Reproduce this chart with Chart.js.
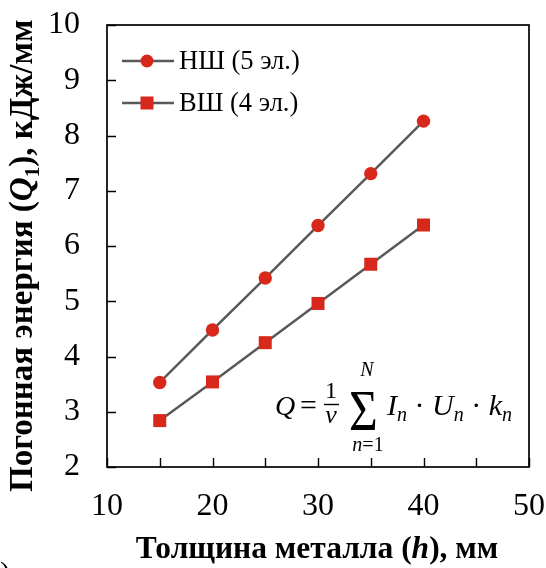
<!DOCTYPE html>
<html>
<head>
<meta charset="utf-8">
<script src="https://cdn.jsdelivr.net/npm/chart.js@4/dist/chart.umd.min.js"></script>
<style>
  html, body { margin: 0; padding: 0; background: #ffffff; }
  #wrap { width: 546px; height: 568px; }
</style>
</head>
<body>
<div id="wrap"><canvas id="c" width="546" height="568"></canvas></div>
<script>
// Metal thickness h, mm
const thickness = [15, 20, 25, 30, 35, 40];
// Heat input Q1, kJ/mm
const nshValues = [3.53, 4.48, 5.42, 6.37, 7.31, 8.26];
const vshValues = [2.84, 3.54, 4.25, 4.96, 5.67, 6.38];
const seriesNames = ['НШ (5 эл.)', 'ВШ (4 эл.)'];
const xRange = [10, 50];
const yRange = [2, 10];

const RED = '#D8281C';
const LINE = '#595959';
const SERIF = '"Liberation Serif", "Times New Roman", serif';

function pts(ys) { return thickness.map((x, i) => ({ x: x, y: ys[i] })); }

// keep the plot box fixed: no extra room reserved for edge labels
function noPad(s) { s.paddingTop = 0; s.paddingBottom = 0; s.paddingLeft = 0; s.paddingRight = 0; }

// Box frame, inward tick marks, legend, axis titles and the formula
const decor = {
  id: 'decor',
  afterDraw(chart) {
    const ctx = chart.ctx;
    const a = chart.chartArea;
    const xs = chart.scales.x, ys = chart.scales.y;
    ctx.save();

    // frame
    ctx.strokeStyle = '#000';
    ctx.lineWidth = 1.7;
    ctx.strokeRect(a.left, a.top, a.right - a.left, a.bottom - a.top);

    // inward ticks
    ctx.lineWidth = 1.4;
    ctx.beginPath();
    ys.ticks.forEach(t => {
      const y = Math.round(ys.getPixelForValue(t.value)) + 0.5;
      ctx.moveTo(a.left, y); ctx.lineTo(a.left + 9, y);
    });
    xs.ticks.forEach(t => {
      const x = Math.round(xs.getPixelForValue(t.value)) + 0.5;
      ctx.moveTo(x, a.bottom); ctx.lineTo(x, a.bottom - 9);
    });
    ctx.stroke();

    // legend
    chart.data.datasets.forEach((ds, i) => {
      const y = a.top + 36 + i * 42;
      const x0 = a.left + 15, x1 = a.left + 67, xm = a.left + 40;
      ctx.strokeStyle = LINE;
      ctx.lineWidth = 2.5;
      ctx.beginPath(); ctx.moveTo(x0, y); ctx.lineTo(x1, y); ctx.stroke();
      ctx.fillStyle = RED;
      if (ds.pointStyle === 'rect') {
        ctx.fillRect(xm - 6.5, y - 6.5, 13, 13);
      } else {
        ctx.beginPath(); ctx.arc(xm, y, 6.5, 0, Math.PI * 2); ctx.fill();
      }
      ctx.fillStyle = '#000';
      ctx.font = '26.5px ' + SERIF;
      ctx.textBaseline = 'middle';
      ctx.textAlign = 'left';
      ctx.fillText(ds.label, a.left + 72, y + 1);
    });

    ctx.textBaseline = 'alphabetic';
    ctx.fillStyle = '#000';

    // draws a run of [text, font, dy] pieces starting at x
    function run(parts, x, y) {
      parts.forEach(p => {
        ctx.font = p[1];
        ctx.fillText(p[0], x, y + (p[2] || 0));
        x += ctx.measureText(p[0]).width;
      });
      return x;
    }
    function runWidth(parts) {
      let w = 0;
      parts.forEach(p => { ctx.font = p[1]; w += ctx.measureText(p[0]).width; });
      return w;
    }

    // x-axis title
    const XB = 'bold 31.5px ' + SERIF, XBI = 'italic bold 31.5px ' + SERIF;
    const xt = [['Толщина металла (', XB], ['h', XBI], ['), мм', XB]];
    ctx.textAlign = 'left';
    run(xt, (a.left + a.right) / 2 - runWidth(xt) / 2 - 1, 558);

    // y-axis title
    const YB = 'bold 33px ' + SERIF, YBI = 'italic bold 33px ' + SERIF;
    const yt = [['Погонная энергия (', YB], ['Q', YBI], ['1', 'bold 21px ' + SERIF, 7], ['), кДж/мм', YB]];
    ctx.save();
    ctx.translate(32, 492);
    ctx.rotate(-Math.PI / 2);
    run(yt, 0, 0);
    ctx.restore();

    // formula
    const MI = 'italic 30px ' + SERIF, MS = 'italic 20px ' + SERIF;
    const M = '30px ' + SERIF;
    ctx.textAlign = 'left';
    ctx.font = 'italic 28px ' + SERIF; ctx.fillText('Q', 275, 415);
    ctx.font = M; ctx.fillText('=', 300, 415);
    ctx.textAlign = 'center';
    ctx.font = '24px ' + SERIF; ctx.fillText('1', 331, 398);
    ctx.font = 'italic 26px ' + SERIF; ctx.fillText('v', 331, 423);
    ctx.lineWidth = 1.4; ctx.strokeStyle = '#000';
    ctx.beginPath(); ctx.moveTo(324, 404.5); ctx.lineTo(339, 404.5); ctx.stroke();
    ctx.save();
    ctx.translate(363.5, 430);
    ctx.scale(0.95, 1.08);
    ctx.font = '52px ' + SERIF; ctx.fillText('Σ', 0, 0);
    ctx.restore();
    ctx.font = MS; ctx.fillText('N', 367, 376);
    const lim = [['n', MS], ['=1', '20px ' + SERIF]];
    ctx.textAlign = 'left';
    run(lim, 368 - runWidth(lim) / 2, 451);
    run([['I', MI], ['n', MS, 6], [' · ', M], ['U', MI], ['n', MS, 6], [' · ', M], ['k', MI], ['n', MS, 6]], 387, 415);

    // clipped bracket in the bottom-left corner
    ctx.font = '30px ' + SERIF;
    ctx.fillText(')', 0, 582);

    ctx.restore();
  }
};

new Chart(document.getElementById('c'), {
  type: 'scatter',
  data: {
    datasets: [
      {
        label: seriesNames[0],
        data: pts(nshValues),
        showLine: true,
        borderColor: LINE,
        borderWidth: 2.5,
        pointStyle: 'circle',
        pointRadius: 6.7,
        pointHoverRadius: 6.7,
        pointBackgroundColor: RED,
        pointBorderColor: RED,
        pointBorderWidth: 0
      },
      {
        label: seriesNames[1],
        data: pts(vshValues),
        showLine: true,
        borderColor: LINE,
        borderWidth: 2.5,
        pointStyle: 'rect',
        pointRadius: 9.2,
        pointHoverRadius: 9.2,
        pointBackgroundColor: RED,
        pointBorderColor: RED,
        pointBorderWidth: 0
      }
    ]
  },
  options: {
    responsive: false,
    animation: false,
    events: [],
    layout: { padding: { top: 25, right: 17, bottom: 0, left: 0 } },
    plugins: { legend: { display: false }, tooltip: { enabled: false } },
    scales: {
      x: {
        type: 'linear',
        min: xRange[0], max: xRange[1],
        grid: { display: false },
        border: { display: false },
        ticks: {
          stepSize: 5,
          autoSkip: false,
          maxRotation: 0,
          padding: 12,
          color: '#000',
          font: { family: SERIF, size: 32 },
          callback: v => (v % 10 === 0 ? String(v) : '')
        },
        afterFit(s) { s.height = 101; noPad(s); }
      },
      y: {
        type: 'linear',
        min: yRange[0], max: yRange[1],
        grid: { display: false },
        border: { display: false },
        ticks: {
          stepSize: 1,
          padding: 19,
          color: '#000',
          font: { family: SERIF, size: 32 }
        },
        afterFit(s) { s.width = 107; noPad(s); }
      }
    }
  },
  plugins: [decor]
});
</script>
</body>
</html>
